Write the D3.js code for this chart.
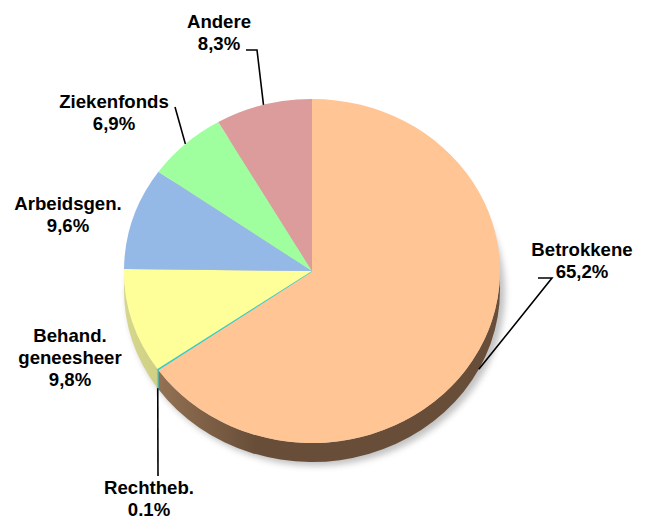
<!DOCTYPE html>
<html>
<head>
<meta charset="utf-8">
<script src="https://cdn.jsdelivr.net/npm/d3@7"></script>
<style>
  body { margin: 0; background: #fff; }
  text { font-family: "Liberation Sans", Arial, sans-serif; font-weight: bold; font-size: 18.6px; fill: #000; }
</style>
</head>
<body>
<svg id="chart" width="649" height="522"></svg>
<script>
// slices, clockwise from 12 o'clock
var categories = ["Betrokkene", "Rechtheb.", "Behand. geneesheer", "Arbeidsgen.", "Ziekenfonds", "Andere"];
var values = [65.2, 0.1, 9.8, 9.6, 6.9, 8.3];
var valueLabels = ["65,2%", "0.1%", "9,8%", "9,6%", "6,9%", "8,3%"];
var labelLines = [["Betrokkene"], ["Rechtheb."], ["Behand.", "geneesheer"], ["Arbeidsgen."], ["Ziekenfonds"], ["Andere"]];

var topColors = ["#ffc594", "#33cccc", "#ffff99", "#95b9e6", "#9fff9f", "#dc9c9c"];
var sideDark = ["#684e39", "#2aa5a5", "#bfbf72", "#6c88aa", "#76bb76", "#a27272"];
var sideLight = ["#a27d5c", "#44c4c4", "#d6d68c", "#8aa6c8", "#92d892", "#c08e8e"];

// label anchors (centre x, first baseline) and leader elbows
var labelPos = [
  { x: 582, y: 256, elbow: [[538, 278], [552, 278]] },
  { x: 149, y: 494, elbow: [[158, 476]] },
  { x: 70,  y: 342, elbow: null },
  { x: 68,  y: 210, elbow: null },
  { x: 114, y: 108, elbow: [[175, 107]] },
  { x: 219, y: 28,  elbow: [[246, 50], [257, 50]] }
];

var svg = d3.select("#chart");
var cx = 312, cy = 271, rx = 188, ry = 172, depth = 19;

var defs = svg.append("defs");
defs.append("filter").attr("id", "blur")
  .attr("x", "-20%").attr("y", "-20%").attr("width", "140%").attr("height", "140%")
  .append("feGaussianBlur").attr("stdDeviation", 3);

var pie = d3.pie().sort(null).value(function(d) { return d; });
var arcs = pie(values);

function pt(a, dy) {
  return [cx + rx * Math.sin(a), cy - ry * Math.cos(a) + (dy || 0)];
}

// shadow
svg.append("ellipse")
  .attr("cx", cx + 4).attr("cy", cy + depth + 3)
  .attr("rx", rx + 1).attr("ry", ry + 1)
  .attr("fill", "#9a9a9a").attr("opacity", 0.6)
  .attr("filter", "url(#blur)");

// side walls (front half only)
var sideG = svg.append("g");
arcs.forEach(function(d, i) {
  var a0 = Math.max(d.startAngle, Math.PI / 2);
  var a1 = Math.min(d.endAngle, Math.PI * 1.5);
  if (a1 <= a0) return;
  var gid = "side" + i;
  var p0 = pt(a0), p1 = pt(a1);
  var grad = defs.append("linearGradient").attr("id", gid)
    .attr("gradientUnits", "userSpaceOnUse")
    .attr("x1", cx - rx).attr("y1", 0).attr("x2", cx + rx).attr("y2", 0);
  grad.append("stop").attr("offset", "0").attr("stop-color", sideLight[i]);
  grad.append("stop").attr("offset", "0.35").attr("stop-color", sideDark[i]);
  grad.append("stop").attr("offset", "1").attr("stop-color", sideDark[i]);
  var b0 = pt(a0, depth), b1 = pt(a1, depth);
  var path = "M" + p0 + " A" + rx + "," + ry + " 0 0 1 " + p1 +
    " L" + b1 + " A" + rx + "," + ry + " 0 0 0 " + b0 + " Z";
  sideG.append("path").attr("d", path)
    .attr("fill", "url(#" + gid + ")")
    .attr("stroke", i === 1 ? topColors[i] : "none")
    .attr("stroke-width", 1);
});

// top surface
var arc = d3.arc().innerRadius(0).outerRadius(rx);
svg.append("g")
  .attr("transform", "translate(" + cx + "," + cy + ") scale(1," + (ry / rx) + ")")
  .selectAll("path")
  .data(arcs)
  .join("path")
  .attr("d", arc)
  .attr("fill", function(d, i) { return topColors[i]; })
  .attr("stroke", function(d, i) { return i === 1 ? topColors[i] : "none"; })
  .attr("stroke-width", 1.2)
  .attr("vector-effect", "non-scaling-stroke");

// leader lines
arcs.forEach(function(d, i) {
  var lp = labelPos[i];
  if (!lp.elbow) return;
  var mid = (d.startAngle + d.endAngle) / 2;
  var front = mid > Math.PI / 2 && mid < Math.PI * 1.5;
  var end = pt(mid, front ? depth : 0);
  var pts = lp.elbow.concat([end]);
  svg.append("path")
    .attr("d", d3.line()(pts))
    .attr("fill", "none").attr("stroke", "#000").attr("stroke-width", 1.6);
});

// labels
arcs.forEach(function(d, i) {
  var lp = labelPos[i];
  var lines = labelLines[i].concat([valueLabels[i]]);
  var t = svg.append("text").attr("text-anchor", "middle");
  lines.forEach(function(s, k) {
    t.append("tspan").attr("x", lp.x).attr("y", lp.y + k * 22).text(s);
  });
});
</script>
</body>
</html>
